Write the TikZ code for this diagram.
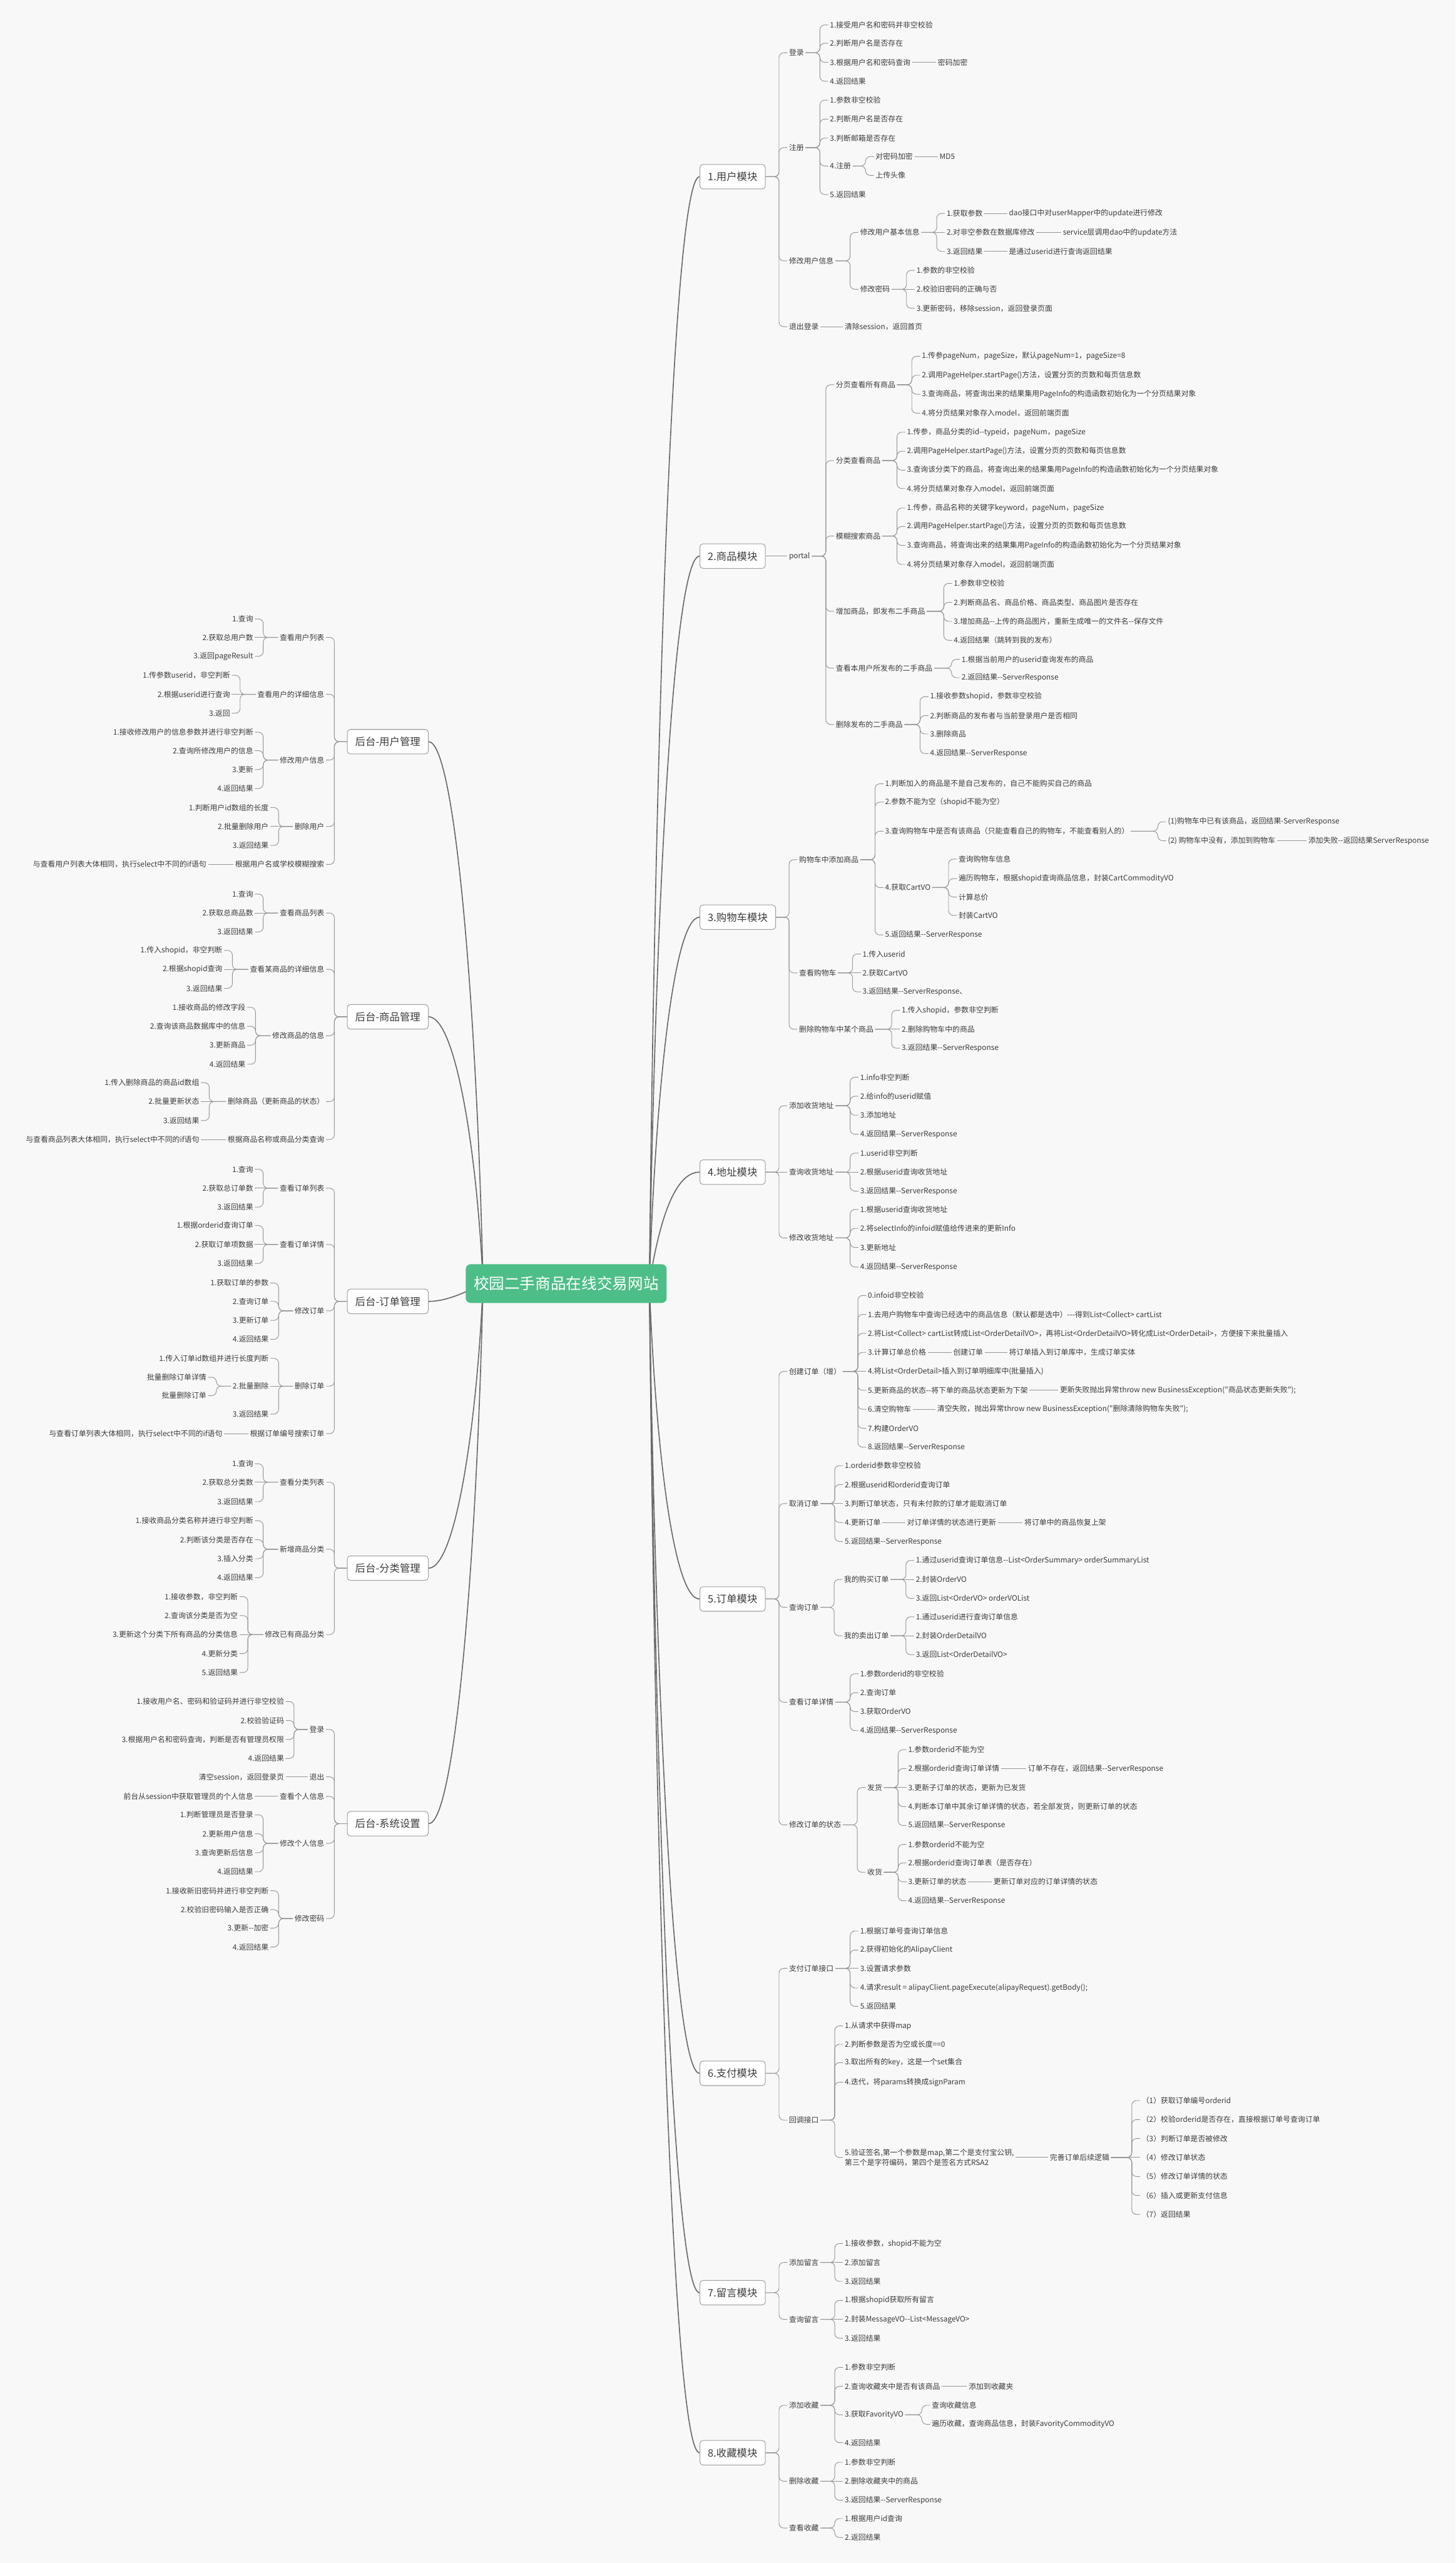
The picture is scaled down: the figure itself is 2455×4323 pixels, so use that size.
\documentclass[tikz,border=0pt]{standalone}
\usepackage{fontspec}
\newfontfamily\cjk{Noto Sans CJK SC}
\usetikzlibrary{calc}

\pgfdeclarelayer{back}
\pgfdeclarelayer{bg}
\pgfsetlayers{back,bg,main}

\definecolor{pagebg}{RGB}{248,248,248}
\definecolor{txt}{RGB}{60,60,60}
\definecolor{branch}{RGB}{150,150,150}
\definecolor{trunkc}{RGB}{105,105,105}
\definecolor{rootgreen}{RGB}{78,190,136}
\definecolor{boxline}{RGB}{160,160,160}

\tikzset{
  rt/.style={anchor=west, inner sep=2pt, text=txt, font=\cjk\fontsize{9.4}{11}\selectfont},
  lt/.style={rt, anchor=east},
  module/.style={draw=boxline, fill=white, rounded corners=4pt, line width=0.8pt, minimum height=31pt, inner xsep=10pt, text=txt, font=\cjk\fontsize{13}{15}\selectfont},
  rmod/.style={module, anchor=west},
  lmod/.style={module, anchor=east},
  root/.style={fill=rootgreen, rounded corners=6pt, minimum height=49pt, inner xsep=10pt, text=white, font=\cjk\fontsize{19.5}{22}\selectfont},
  link/.style={draw=branch, line width=0.75pt, rounded corners=6pt},
  trunk/.style={draw=trunkc, line width=1.3pt},
}

% brace to a child on the right / on the left, and straight links
\newcommand{\rlink}[2]{\draw[link] (#1.east) -- ($(#1.east -| #2.west)+(-14,0)$) |- (#2.west);}
\newcommand{\rline}[2]{\draw[link] (#1.east) -- (#2.west);}
\newcommand{\llink}[2]{\draw[link] (#1.west) -- ($(#1.west -| #2.east)+(14,0)$) |- (#2.east);}
\newcommand{\lline}[2]{\draw[link] (#1.west) -- (#2.east);}

\begin{document}
\begin{tikzpicture}[x=0.75pt,y=-0.75pt]
	\useasboundingbox (0,0) rectangle (2455,4323);
	\begin{pgfonlayer}{back}
		\fill[pagebg] (0,0) rectangle (2455,4323);
	\end{pgfonlayer}

	% Root
	\node[root] (root) at (955,2165) {校园二手商品在线交易网站};

	% Modules (right)
	\node[rmod] (user)  at (1180,298)  {1.用户模块};
	\node[rmod] (goods) at (1180,938)  {2.商品模块};
	\node[rmod] (cart)  at (1180,1547) {3.购物车模块};
	\node[rmod] (addr)  at (1180,1977) {4.地址模块};
	\node[rmod] (order) at (1180,2697) {5.订单模块};
	\node[rmod] (pay)   at (1180,3497) {6.支付模块};
	\node[rmod] (msg)   at (1180,3867) {7.留言模块};
	\node[rmod] (fav)   at (1180,4137) {8.收藏模块};
	% Modules (left)
	\node[lmod] (aduser)  at (723,1251) {后台-用户管理};
	\node[lmod] (adgoods) at (723,1715) {后台-商品管理};
	\node[lmod] (adorder) at (723,2195) {后台-订单管理};
	\node[lmod] (adtype)  at (723,2645) {后台-分类管理};
	\node[lmod] (adsys)   at (723,3076) {后台-系统设置};

	% Trunk curves
	\begin{pgfonlayer}{bg}
	\draw[trunk] ([xshift=-22pt]root.east) .. controls +(10,-934) and +(-45,0) .. (user.west);
	\draw[trunk] ([xshift=-22pt]root.east) .. controls +(10,-614) and +(-45,0) .. (goods.west);
	\draw[trunk] ([xshift=-22pt]root.east) .. controls +(10,-309) and +(-45,0) .. (cart.west);
	\draw[trunk] ([xshift=-22pt]root.east) .. controls +(15,-94) and +(-45,0) .. (addr.west);
	\draw[trunk] ([xshift=-22pt]root.east) .. controls +(10,266) and +(-45,0) .. (order.west);
	\draw[trunk] ([xshift=-22pt]root.east) .. controls +(10,666) and +(-45,0) .. (pay.west);
	\draw[trunk] ([xshift=-22pt]root.east) .. controls +(10,851) and +(-45,0) .. (msg.west);
	\draw[trunk] ([xshift=-22pt]root.east) .. controls +(10,986) and +(-45,0) .. (fav.west);
	\draw[trunk] ([xshift=22pt]root.west) .. controls +(-10,-457) and +(45,0) .. (aduser.east);
	\draw[trunk] ([xshift=22pt]root.west) .. controls +(-10,-225) and +(45,0) .. (adgoods.east);
	\draw[trunk] ([xshift=22pt]root.west) .. controls +(-30,15) and +(30,0) .. (adorder.east);
	\draw[trunk] ([xshift=22pt]root.west) .. controls +(-10,240) and +(45,0) .. (adtype.east);
	\draw[trunk] ([xshift=22pt]root.west) .. controls +(-10,455) and +(45,0) .. (adsys.east);
	\end{pgfonlayer}

	% 1.用户模块
	\node[rt] (u-login)   at (1328,89)  {登录};
	\node[rt] (u-login-1) at (1397,42)  {1.接受用户名和密码并非空校验};
	\node[rt] (u-login-2) at (1397,73)  {2.判断用户名是否存在};
	\node[rt] (u-login-3) at (1397,105) {3.根据用户名和密码查询};
	\node[rt] (u-login-3a) at (1579,105) {密码加密};
	\node[rt] (u-login-4) at (1397,137) {4.返回结果};
	\node[rt] (u-reg)     at (1328,249) {注册};
	\node[rt] (u-reg-1)   at (1397,169) {1.参数非空校验};
	\node[rt] (u-reg-2)   at (1397,201) {2.判断用户名是否存在};
	\node[rt] (u-reg-3)   at (1397,233) {3.判断邮箱是否存在};
	\node[rt] (u-reg-4)   at (1397,280) {4.注册};
	\node[rt] (u-reg-4a)  at (1474,264) {对密码加密};
	\node[rt] (u-reg-4a1) at (1582,264) {MD5};
	\node[rt] (u-reg-4b)  at (1474,296) {上传头像};
	\node[rt] (u-reg-5)   at (1397,328) {5.返回结果};
	\node[rt] (u-edit)    at (1328,440) {修改用户信息};
	\node[rt] (u-base)    at (1448,392) {修改用户基本信息};
	\node[rt] (u-base-1)  at (1594,360) {1.获取参数};
	\node[rt] (u-base-1n) at (1699,360) {dao接口中对userMapper中的update进行修改};
	\node[rt] (u-base-2)  at (1594,392) {2.对非空参数在数据库修改};
	\node[rt] (u-base-2n) at (1790,392) {service层调用dao中的update方法};
	\node[rt] (u-base-3)  at (1594,424) {3.返回结果};
	\node[rt] (u-base-3n) at (1699,424) {是通过userid进行查询返回结果};
	\node[rt] (u-pwd)     at (1448,488) {修改密码};
	\node[rt] (u-pwd-1)   at (1543,456) {1.参数的非空校验};
	\node[rt] (u-pwd-2)   at (1543,488) {2.校验旧密码的正确与否};
	\node[rt] (u-pwd-3)   at (1543,520) {3.更新密码，移除session，返回登录页面};
	\node[rt] (u-logout)  at (1328,551) {退出登录};
	\node[rt] (u-logout-n) at (1422,551) {清除session，返回首页};

	\foreach \c in {u-login,u-reg,u-edit,u-logout} {\rlink{user}{\c}}
	\foreach \i in {1,2,3,4} {\rlink{u-login}{u-login-\i}}
	\rline{u-login-3}{u-login-3a}
	\foreach \i in {1,2,3,4,5} {\rlink{u-reg}{u-reg-\i}}
	\rlink{u-reg-4}{u-reg-4a} \rlink{u-reg-4}{u-reg-4b}
	\rline{u-reg-4a}{u-reg-4a1}
	\rlink{u-edit}{u-base} \rlink{u-edit}{u-pwd}
	\rlink{u-base}{u-base-1} \rline{u-base}{u-base-2} \rlink{u-base}{u-base-3}
	\foreach \i in {1,2,3} {\rline{u-base-\i}{u-base-\i n}}
	\rlink{u-pwd}{u-pwd-1} \rline{u-pwd}{u-pwd-2} \rlink{u-pwd}{u-pwd-3}
	\rline{u-logout}{u-logout-n}

	% 2.商品模块
	\node[rt] (g-portal) at (1328,938) {portal};
	\node[rt] (g-page)   at (1407,649) {分页查看所有商品};
	\node[rt] (g-page-1) at (1552,601) {1.传参pageNum，pageSize，默认pageNum=1，pageSize=8};
	\node[rt] (g-page-2) at (1552,633) {2.调用PageHelper.startPage()方法，设置分页的页数和每页信息数};
	\node[rt] (g-page-3) at (1552,665) {3.查询商品，将查询出来的结果集用PageInfo的构造函数初始化为一个分页结果对象};
	\node[rt] (g-page-4) at (1552,697) {4.将分页结果对象存入model，返回前端页面};
	\node[rt] (g-type)   at (1407,777) {分类查看商品};
	\node[rt] (g-type-1) at (1527,729) {1.传参，商品分类的id--typeid，pageNum，pageSize};
	\node[rt] (g-type-2) at (1527,761) {2.调用PageHelper.startPage()方法，设置分页的页数和每页信息数};
	\node[rt] (g-type-3) at (1527,793) {3.查询该分类下的商品，将查询出来的结果集用PageInfo的构造函数初始化为一个分页结果对象};
	\node[rt] (g-type-4) at (1527,824) {4.将分页结果对象存入model，返回前端页面};
	\node[rt] (g-find)   at (1407,904) {模糊搜索商品};
	\node[rt] (g-find-1) at (1527,857) {1.传参，商品名称的关键字keyword，pageNum，pageSize};
	\node[rt] (g-find-2) at (1527,888) {2.调用PageHelper.startPage()方法，设置分页的页数和每页信息数};
	\node[rt] (g-find-3) at (1527,920) {3.查询商品，将查询出来的结果集用PageInfo的构造函数初始化为一个分页结果对象};
	\node[rt] (g-find-4) at (1527,952) {4.将分页结果对象存入model，返回前端页面};
	\node[rt] (g-add)    at (1407,1031) {增加商品，即发布二手商品};
	\node[rt] (g-add-1)  at (1606,984)  {1.参数非空校验};
	\node[rt] (g-add-2)  at (1606,1016) {2.判断商品名、商品价格、商品类型、商品图片是否存在};
	\node[rt] (g-add-3)  at (1606,1048) {3.增加商品--上传的商品图片，重新生成唯一的文件名--保存文件};
	\node[rt] (g-add-4)  at (1606,1080) {4.返回结果（跳转到我的发布）};
	\node[rt] (g-mine)   at (1407,1127) {查看本用户所发布的二手商品};
	\node[rt] (g-mine-1) at (1619,1112) {1.根据当前用户的userid查询发布的商品};
	\node[rt] (g-mine-2) at (1619,1143) {2.返回结果--ServerResponse};
	\node[rt] (g-del)    at (1407,1222) {删除发布的二手商品};
	\node[rt] (g-del-1)  at (1566,1175) {1.接收参数shopid，参数非空校验};
	\node[rt] (g-del-2)  at (1566,1207) {2.判断商品的发布者与当前登录用户是否相同};
	\node[rt] (g-del-3)  at (1566,1238) {3.删除商品};
	\node[rt] (g-del-4)  at (1566,1271) {4.返回结果--ServerResponse};

	\rline{goods}{g-portal}
	\foreach \c in {g-page,g-type,g-find,g-add,g-mine,g-del} {\rlink{g-portal}{\c}}
	\foreach \c in {g-page,g-type,g-find,g-add,g-del} {
		\foreach \i in {1,2,3,4} {\rlink{\c}{\c-\i}}
	}
	\rlink{g-mine}{g-mine-1} \rlink{g-mine}{g-mine-2}

	% 3.购物车模块
	\node[rt] (c-add)    at (1345,1450) {购物车中添加商品};
	\node[rt] (c-add-1)  at (1490,1322) {1.判断加入的商品是不是自己发布的，自己不能购买自己的商品};
	\node[rt] (c-add-2)  at (1490,1353) {2.参数不能为空（shopid不能为空）};
	\node[rt] (c-add-3)  at (1490,1402) {3.查询购物车中是否有该商品（只能查看自己的购物车，不能查看别人的）};
	\node[rt] (c-add-3a) at (1967,1386) {(1)购物车中已有该商品，返回结果-ServerResponse};
	\node[rt] (c-add-3b) at (1967,1418) {(2) 购物车中没有，添加到购物车};
	\node[rt] (c-add-3c) at (2204,1418) {添加失败--返回结果ServerResponse};
	\node[rt] (c-add-4)  at (1490,1497) {4.获取CartVO};
	\node[rt] (c-vo-1)   at (1614,1449) {查询购物车信息};
	\node[rt] (c-vo-2)   at (1614,1482) {遍历购物车，根据shopid查询商品信息，封装CartCommodityVO};
	\node[rt] (c-vo-3)   at (1614,1513) {计算总价};
	\node[rt] (c-vo-4)   at (1614,1544) {封装CartVO};
	\node[rt] (c-add-5)  at (1490,1577) {5.返回结果--ServerResponse};
	\node[rt] (c-view)   at (1345,1641) {查看购物车};
	\node[rt] (c-view-1) at (1452,1609) {1.传入userid};
	\node[rt] (c-view-2) at (1452,1641) {2.获取CartVO};
	\node[rt] (c-view-3) at (1452,1673) {3.返回结果--ServerResponse、};
	\node[rt] (c-del)    at (1345,1736) {删除购物车中某个商品};
	\node[rt] (c-del-1)  at (1518,1704) {1.传入shopid，参数非空判断};
	\node[rt] (c-del-2)  at (1518,1736) {2.删除购物车中的商品};
	\node[rt] (c-del-3)  at (1518,1768) {3.返回结果--ServerResponse};

	\foreach \c in {c-add,c-view,c-del} {\rlink{cart}{\c}}
	\foreach \i in {1,2,3,4,5} {\rlink{c-add}{c-add-\i}}
	\rlink{c-add-3}{c-add-3a} \rlink{c-add-3}{c-add-3b}
	\rline{c-add-3b}{c-add-3c}
	\foreach \i in {1,2,3,4} {\rlink{c-add-4}{c-vo-\i}}
	\rlink{c-view}{c-view-1} \rline{c-view}{c-view-2} \rlink{c-view}{c-view-3}
	\rlink{c-del}{c-del-1} \rline{c-del}{c-del-2} \rlink{c-del}{c-del-3}

	% 4.地址模块
	\node[rt] (a-add)     at (1328,1865) {添加收货地址};
	\node[rt] (a-add-1)   at (1448,1817) {1.info非空判断};
	\node[rt] (a-add-2)   at (1448,1849) {2.给info的userid赋值};
	\node[rt] (a-add-3)   at (1448,1881) {3.添加地址};
	\node[rt] (a-add-4)   at (1448,1913) {4.返回结果--ServerResponse};
	\node[rt] (a-query)   at (1328,1977) {查询收货地址};
	\node[rt] (a-query-1) at (1448,1945) {1.userid非空判断};
	\node[rt] (a-query-2) at (1448,1977) {2.根据userid查询收货地址};
	\node[rt] (a-query-3) at (1448,2009) {3.返回结果--ServerResponse};
	\node[rt] (a-edit)    at (1328,2088) {修改收货地址};
	\node[rt] (a-edit-1)  at (1448,2040) {1.根据userid查询收货地址};
	\node[rt] (a-edit-2)  at (1448,2072) {2.将selectInfo的infoid赋值给传进来的更新Info};
	\node[rt] (a-edit-3)  at (1448,2104) {3.更新地址};
	\node[rt] (a-edit-4)  at (1448,2137) {4.返回结果--ServerResponse};

	\rlink{addr}{a-add} \rline{addr}{a-query} \rlink{addr}{a-edit}
	\foreach \i in {1,2,3,4} {\rlink{a-add}{a-add-\i} \rlink{a-edit}{a-edit-\i}}
	\rlink{a-query}{a-query-1} \rline{a-query}{a-query-2} \rlink{a-query}{a-query-3}

	% 5.订单模块
	\node[rt] (o-new)    at (1328,2313) {创建订单（增）};
	\node[rt] (o-new-0)  at (1461,2185) {0.infoid非空校验};
	\node[rt] (o-new-1)  at (1461,2217) {1.去用户购物车中查询已经选中的商品信息（默认都是选中）---得到List<Collect> cartList};
	\node[rt] (o-new-2)  at (1461,2249) {2.将List<Collect> cartList转成List<OrderDetailVO>，再将List<OrderDetailVO>转化成List<OrderDetail>，方便接下来批量插入};
	\node[rt] (o-new-3)  at (1461,2281) {3.计算订单总价格};
	\node[rt] (o-new-3a) at (1605,2281) {创建订单};
	\node[rt] (o-new-3b) at (1699,2281) {将订单插入到订单库中，生成订单实体};
	\node[rt] (o-new-4)  at (1461,2313) {4.将List<OrderDetail>插入到订单明细库中(批量插入)};
	\node[rt] (o-new-5)  at (1461,2345) {5.更新商品的状态--将下单的商品状态更新为下架};
	\node[rt] (o-new-5a) at (1785,2345) {更新失败抛出异常throw new BusinessException("商品状态更新失败");};
	\node[rt] (o-new-6)  at (1461,2377) {6.清空购物车};
	\node[rt] (o-new-6a) at (1578,2377) {清空失败，抛出异常throw new BusinessException("删除清除购物车失败");};
	\node[rt] (o-new-7)  at (1461,2409) {7.构建OrderVO};
	\node[rt] (o-new-8)  at (1461,2441) {8.返回结果--ServerResponse};
	\node[rt] (o-cancel)   at (1328,2536) {取消订单};
	\node[rt] (o-cancel-1) at (1422,2472) {1.orderid参数非空校验};
	\node[rt] (o-cancel-2) at (1422,2504) {2.根据userid和orderid查询订单};
	\node[rt] (o-cancel-3) at (1422,2536) {3.判断订单状态，只有未付款的订单才能取消订单};
	\node[rt] (o-cancel-4) at (1422,2568) {4.更新订单};
	\node[rt] (o-cancel-4a) at (1527,2568) {对订单详情的状态进行更新};
	\node[rt] (o-cancel-4b) at (1725,2568) {将订单中的商品恢复上架};
	\node[rt] (o-cancel-5) at (1422,2600) {5.返回结果--ServerResponse};
	\node[rt] (o-query)  at (1328,2711) {查询订单};
	\node[rt] (o-buy)    at (1421,2664) {我的购买订单};
	\node[rt] (o-buy-1)  at (1542,2632) {1.通过userid查询订单信息--List<OrderSummary> orderSummaryList};
	\node[rt] (o-buy-2)  at (1542,2664) {2.封装OrderVO};
	\node[rt] (o-buy-3)  at (1542,2696) {3.返回List<OrderVO> orderVOList};
	\node[rt] (o-sell)   at (1421,2759) {我的卖出订单};
	\node[rt] (o-sell-1) at (1542,2727) {1.通过userid进行查询订单信息};
	\node[rt] (o-sell-2) at (1542,2759) {2.封装OrderDetailVO};
	\node[rt] (o-sell-3) at (1542,2791) {3.返回List<OrderDetailVO>};
	\node[rt] (o-info)   at (1328,2871) {查看订单详情};
	\node[rt] (o-info-1) at (1448,2823) {1.参数orderid的非空校验};
	\node[rt] (o-info-2) at (1448,2855) {2.查询订单};
	\node[rt] (o-info-3) at (1448,2887) {3.获取OrderVO};
	\node[rt] (o-info-4) at (1448,2919) {4.返回结果--ServerResponse};
	\node[rt] (o-state)  at (1328,3078) {修改订单的状态};
	\node[rt] (o-ship)   at (1460,3015) {发货};
	\node[rt] (o-ship-1) at (1529,2951) {1.参数orderid不能为空};
	\node[rt] (o-ship-2) at (1529,2983) {2.根据orderid查询订单详情};
	\node[rt] (o-ship-2a) at (1731,2983) {订单不存在，返回结果--ServerResponse};
	\node[rt] (o-ship-3) at (1529,3015) {3.更新子订单的状态，更新为已发货};
	\node[rt] (o-ship-4) at (1529,3047) {4.判断本订单中其余订单详情的状态，若全部发货，则更新订单的状态};
	\node[rt] (o-ship-5) at (1529,3079) {5.返回结果--ServerResponse};
	\node[rt] (o-recv)   at (1460,3158) {收货};
	\node[rt] (o-recv-1) at (1529,3111) {1.参数orderid不能为空};
	\node[rt] (o-recv-2) at (1529,3142) {2.根据orderid查询订单表（是否存在）};
	\node[rt] (o-recv-3) at (1529,3174) {3.更新订单的状态};
	\node[rt] (o-recv-3a) at (1673,3174) {更新订单对应的订单详情的状态};
	\node[rt] (o-recv-4) at (1529,3206) {4.返回结果--ServerResponse};

	\foreach \c in {o-new,o-cancel,o-query,o-info,o-state} {\rlink{order}{\c}}
	\foreach \i in {0,1,2,3,5,6,7,8} {\rlink{o-new}{o-new-\i}}
	\rline{o-new}{o-new-4}
	\rline{o-new-3}{o-new-3a} \rline{o-new-3a}{o-new-3b}
	\rline{o-new-5}{o-new-5a} \rline{o-new-6}{o-new-6a}
	\foreach \i in {1,2,4,5} {\rlink{o-cancel}{o-cancel-\i}}
	\rline{o-cancel}{o-cancel-3}
	\rline{o-cancel-4}{o-cancel-4a} \rline{o-cancel-4a}{o-cancel-4b}
	\rlink{o-query}{o-buy} \rlink{o-query}{o-sell}
	\foreach \c in {o-buy,o-sell} {\rlink{\c}{\c-1} \rline{\c}{\c-2} \rlink{\c}{\c-3}}
	\foreach \i in {1,2,3,4} {\rlink{o-info}{o-info-\i} \rlink{o-recv}{o-recv-\i}}
	\rlink{o-state}{o-ship} \rlink{o-state}{o-recv}
	\foreach \i in {1,2,4,5} {\rlink{o-ship}{o-ship-\i}}
	\rline{o-ship}{o-ship-3}
	\rline{o-ship-2}{o-ship-2a} \rline{o-recv-3}{o-recv-3a}

	% 6.支付模块
	\node[rt] (p-pay)    at (1328,3320) {支付订单接口};
	\node[rt] (p-pay-1)  at (1448,3257) {1.根据订单号查询订单信息};
	\node[rt] (p-pay-2)  at (1448,3289) {2.获得初始化的AlipayClient};
	\node[rt] (p-pay-3)  at (1448,3320) {3.设置请求参数};
	\node[rt] (p-pay-4)  at (1448,3353) {4.请求result = alipayClient.pageExecute(alipayRequest).getBody();};
	\node[rt] (p-pay-5)  at (1448,3384) {5.返回结果};
	\node[rt] (p-back)   at (1328,3576) {回调接口};
	\node[rt] (p-back-1) at (1422,3417) {1.从请求中获得map};
	\node[rt] (p-back-2) at (1422,3448) {2.判断参数是否为空或长度==0};
	\node[rt] (p-back-3) at (1422,3479) {3.取出所有的key，这是一个set集合};
	\node[rt] (p-back-4) at (1422,3512) {4.迭代，将params转换成signParam};
	\node[rt, align=left, font=\cjk\fontsize{9.4}{12.8}\selectfont] (p-back-5) at (1422,3639)
		{5.验证签名,第一个参数是map,第二个是支付宝公钥,\\第三个是字符编码，第四个是签名方式RSA2};
	\node[rt] (p-next)   at (1768,3639) {完善订单后续逻辑};
	\node[rt] (p-next-1) at (1923,3543) {（1）获取订单编号orderid};
	\node[rt] (p-next-2) at (1923,3575) {（2）校验orderid是否存在，直接根据订单号查询订单};
	\node[rt] (p-next-3) at (1923,3607) {（3）判断订单是否被修改};
	\node[rt] (p-next-4) at (1923,3639) {（4）修改订单状态};
	\node[rt] (p-next-5) at (1923,3671) {（5）修改订单详情的状态};
	\node[rt] (p-next-6) at (1923,3703) {（6）插入或更新支付信息};
	\node[rt] (p-next-7) at (1923,3735) {（7）返回结果};

	\rlink{pay}{p-pay} \rlink{pay}{p-back}
	\foreach \i in {1,2,4,5} {\rlink{p-pay}{p-pay-\i}}
	\rline{p-pay}{p-pay-3}
	\foreach \i in {1,2,3,4,5} {\rlink{p-back}{p-back-\i}}
	\rline{p-back-5}{p-next}
	\foreach \i in {1,2,3,5,6,7} {\rlink{p-next}{p-next-\i}}
	\rline{p-next}{p-next-4}

	% 7.留言模块
	\node[rt] (m-add)     at (1328,3816) {添加留言};
	\node[rt] (m-add-1)   at (1422,3784) {1.接收参数，shopid不能为空};
	\node[rt] (m-add-2)   at (1422,3816) {2.添加留言};
	\node[rt] (m-add-3)   at (1422,3848) {3.返回结果};
	\node[rt] (m-query)   at (1328,3912) {查询留言};
	\node[rt] (m-query-1) at (1422,3880) {1.根据shopid获取所有留言};
	\node[rt] (m-query-2) at (1422,3912) {2.封装MessageVO--List<MessageVO>};
	\node[rt] (m-query-3) at (1422,3944) {3.返回结果};

	\rlink{msg}{m-add} \rlink{msg}{m-query}
	\foreach \c in {m-add,m-query} {\rlink{\c}{\c-1} \rline{\c}{\c-2} \rlink{\c}{\c-3}}

	% 8.收藏模块
	\node[rt] (f-add)    at (1328,4057) {添加收藏};
	\node[rt] (f-add-1)  at (1422,3993) {1.参数非空判断};
	\node[rt] (f-add-2)  at (1422,4025) {2.查询收藏夹中是否有该商品};
	\node[rt] (f-add-2a) at (1631,4025) {添加到收藏夹};
	\node[rt] (f-add-3)  at (1422,4073) {3.获取FavorityVO};
	\node[rt] (f-vo-1)   at (1569,4057) {查询收藏信息};
	\node[rt] (f-vo-2)   at (1569,4089) {遍历收藏，查询商品信息，封装FavorityCommodityVO};
	\node[rt] (f-add-4)  at (1422,4120) {4.返回结果};
	\node[rt] (f-del)    at (1328,4185) {删除收藏};
	\node[rt] (f-del-1)  at (1422,4153) {1.参数非空判断};
	\node[rt] (f-del-2)  at (1422,4185) {2.删除收藏夹中的商品};
	\node[rt] (f-del-3)  at (1422,4217) {3.返回结果--ServerResponse};
	\node[rt] (f-view)   at (1328,4264) {查看收藏};
	\node[rt] (f-view-1) at (1422,4248) {1.根据用户id查询};
	\node[rt] (f-view-2) at (1422,4280) {2.返回结果};

	\foreach \c in {f-add,f-del,f-view} {\rlink{fav}{\c}}
	\foreach \i in {1,2,3,4} {\rlink{f-add}{f-add-\i}}
	\rline{f-add-2}{f-add-2a}
	\rlink{f-add-3}{f-vo-1} \rlink{f-add-3}{f-vo-2}
	\rlink{f-del}{f-del-1} \rline{f-del}{f-del-2} \rlink{f-del}{f-del-3}
	\rlink{f-view}{f-view-1} \rlink{f-view}{f-view-2}

	% 后台-用户管理
	\node[lt] (au-list)   at (550,1075) {查看用户列表};
	\node[lt] (au-list-1) at (430,1044) {1.查询};
	\node[lt] (au-list-2) at (430,1075) {2.获取总用户数};
	\node[lt] (au-list-3) at (430,1107) {3.返回pageResult};
	\node[lt] (au-info)   at (550,1171) {查看用户的详细信息};
	\node[lt] (au-info-1) at (391,1139) {1.传参数userid，非空判断};
	\node[lt] (au-info-2) at (391,1171) {2.根据userid进行查询};
	\node[lt] (au-info-3) at (391,1203) {3.返回};
	\node[lt] (au-edit)   at (550,1282) {修改用户信息};
	\node[lt] (au-edit-1) at (430,1235) {1.接收修改用户的信息参数并进行非空判断};
	\node[lt] (au-edit-2) at (430,1266) {2.查询所修改用户的信息};
	\node[lt] (au-edit-3) at (430,1298) {3.更新};
	\node[lt] (au-edit-4) at (430,1330) {4.返回结果};
	\node[lt] (au-del)    at (550,1394) {删除用户};
	\node[lt] (au-del-1)  at (456,1362) {1.判断用户id数组的长度};
	\node[lt] (au-del-2)  at (456,1394) {2.批量删除用户};
	\node[lt] (au-del-3)  at (456,1426) {3.返回结果};
	\node[lt] (au-find)   at (550,1458) {根据用户名或学校模糊搜索};
	\node[lt] (au-find-n) at (351,1458) {与查看用户列表大体相同，执行select中不同的if语句};

	\foreach \c in {au-list,au-info,au-edit,au-del,au-find} {\llink{aduser}{\c}}
	\foreach \c in {au-list,au-info,au-del} {\llink{\c}{\c-1} \lline{\c}{\c-2} \llink{\c}{\c-3}}
	\foreach \i in {1,2,3,4} {\llink{au-edit}{au-edit-\i}}
	\lline{au-find}{au-find-n}

	% 后台-商品管理
	\node[lt] (ag-list)   at (550,1540) {查看商品列表};
	\node[lt] (ag-list-1) at (430,1508) {1.查询};
	\node[lt] (ag-list-2) at (430,1540) {2.获取总商品数};
	\node[lt] (ag-list-3) at (430,1572) {3.返回结果};
	\node[lt] (ag-info)   at (550,1635) {查看某商品的详细信息};
	\node[lt] (ag-info-1) at (378,1603) {1.传入shopid，非空判断};
	\node[lt] (ag-info-2) at (378,1635) {2.根据shopid查询};
	\node[lt] (ag-info-3) at (378,1667) {3.返回结果};
	\node[lt] (ag-edit)   at (550,1747) {修改商品的信息};
	\node[lt] (ag-edit-1) at (417,1699) {1.接收商品的修改字段};
	\node[lt] (ag-edit-2) at (417,1731) {2.查询该商品数据库中的信息};
	\node[lt] (ag-edit-3) at (417,1763) {3.更新商品};
	\node[lt] (ag-edit-4) at (417,1795) {4.返回结果};
	\node[lt] (ag-del)    at (550,1858) {删除商品（更新商品的状态）};
	\node[lt] (ag-del-1)  at (339,1826) {1.传入删除商品的商品id数组};
	\node[lt] (ag-del-2)  at (339,1858) {2.批量更新状态};
	\node[lt] (ag-del-3)  at (339,1890) {3.返回结果};
	\node[lt] (ag-find)   at (550,1922) {根据商品名称或商品分类查询};
	\node[lt] (ag-find-n) at (339,1922) {与查看商品列表大体相同，执行select中不同的if语句};

	\foreach \c in {ag-list,ag-info,ag-edit,ag-del,ag-find} {\llink{adgoods}{\c}}
	\foreach \c in {ag-list,ag-info,ag-del} {\llink{\c}{\c-1} \lline{\c}{\c-2} \llink{\c}{\c-3}}
	\foreach \i in {1,2,3,4} {\llink{ag-edit}{ag-edit-\i}}
	\lline{ag-find}{ag-find-n}

	% 后台-订单管理
	\node[lt] (ao-list)   at (550,2004) {查看订单列表};
	\node[lt] (ao-list-1) at (430,1972) {1.查询};
	\node[lt] (ao-list-2) at (430,2004) {2.获取总订单数};
	\node[lt] (ao-list-3) at (430,2036) {3.返回结果};
	\node[lt] (ao-info)   at (550,2099) {查看订单详情};
	\node[lt] (ao-info-1) at (430,2067) {1.根据orderid查询订单};
	\node[lt] (ao-info-2) at (430,2099) {2.获取订单项数据};
	\node[lt] (ao-info-3) at (430,2131) {3.返回结果};
	\node[lt] (ao-edit)   at (550,2211) {修改订单};
	\node[lt] (ao-edit-1) at (456,2164) {1.获取订单的参数};
	\node[lt] (ao-edit-2) at (456,2195) {2.查询订单};
	\node[lt] (ao-edit-3) at (456,2227) {3.更新订单};
	\node[lt] (ao-edit-4) at (456,2259) {4.返回结果};
	\node[lt] (ao-del)    at (550,2338) {删除订单};
	\node[lt] (ao-del-1)  at (456,2291) {1.传入订单id数组并进行长度判断};
	\node[lt] (ao-del-2)  at (456,2338) {2.批量删除};
	\node[lt] (ao-del-2a) at (351,2323) {批量删除订单详情};
	\node[lt] (ao-del-2b) at (351,2354) {批量删除订单};
	\node[lt] (ao-del-3)  at (456,2385) {3.返回结果};
	\node[lt] (ao-find)   at (550,2418) {根据订单编号搜索订单};
	\node[lt] (ao-find-n) at (378,2418) {与查看订单列表大体相同，执行select中不同的if语句};

	\foreach \c in {ao-list,ao-info,ao-edit,ao-del,ao-find} {\llink{adorder}{\c}}
	\foreach \c in {ao-list,ao-info,ao-del} {\llink{\c}{\c-1} \lline{\c}{\c-2} \llink{\c}{\c-3}}
	\foreach \i in {1,2,3,4} {\llink{ao-edit}{ao-edit-\i}}
	\llink{ao-del-2}{ao-del-2a} \llink{ao-del-2}{ao-del-2b}
	\lline{ao-find}{ao-find-n}

	% 后台-分类管理
	\node[lt] (at-list)   at (550,2500) {查看分类列表};
	\node[lt] (at-list-1) at (430,2469) {1.查询};
	\node[lt] (at-list-2) at (430,2500) {2.获取总分类数};
	\node[lt] (at-list-3) at (430,2533) {3.返回结果};
	\node[lt] (at-add)    at (550,2613) {新增商品分类};
	\node[lt] (at-add-1)  at (430,2565) {1.接收商品分类名称并进行非空判断};
	\node[lt] (at-add-2)  at (430,2597) {2.判断该分类是否存在};
	\node[lt] (at-add-3)  at (430,2629) {3.插入分类};
	\node[lt] (at-add-4)  at (430,2661) {4.返回结果};
	\node[lt] (at-edit)   at (550,2757) {修改已有商品分类};
	\node[lt] (at-edit-1) at (404,2693) {1.接收参数，非空判断};
	\node[lt] (at-edit-2) at (404,2725) {2.查询该分类是否为空};
	\node[lt] (at-edit-3) at (404,2757) {3.更新这个分类下所有商品的分类信息};
	\node[lt] (at-edit-4) at (404,2789) {4.更新分类};
	\node[lt] (at-edit-5) at (404,2821) {5.返回结果};

	\foreach \c in {at-list,at-add,at-edit} {\llink{adtype}{\c}}
	\llink{at-list}{at-list-1} \lline{at-list}{at-list-2} \llink{at-list}{at-list-3}
	\foreach \i in {1,2,3,4} {\llink{at-add}{at-add-\i}}
	\foreach \i in {1,2,4,5} {\llink{at-edit}{at-edit-\i}}
	\lline{at-edit}{at-edit-3}

	% 后台-系统设置
	\node[lt] (as-login)   at (550,2917) {登录};
	\node[lt] (as-login-1) at (482,2870) {1.接收用户名、密码和验证码并进行非空校验};
	\node[lt] (as-login-2) at (482,2902) {2.校验验证码};
	\node[lt] (as-login-3) at (482,2934) {3.根据用户名和密码查询，判断是否有管理员权限};
	\node[lt] (as-login-4) at (482,2966) {4.返回结果};
	\node[lt] (as-out)     at (550,2997) {退出};
	\node[lt] (as-out-n)   at (482,2997) {清空session，返回登录页};
	\node[lt] (as-me)      at (550,3030) {查看个人信息};
	\node[lt] (as-me-n)    at (430,3030) {前台从session中获取管理员的个人信息};
	\node[lt] (as-edit)    at (550,3109) {修改个人信息};
	\node[lt] (as-edit-1)  at (430,3061) {1.判断管理员是否登录};
	\node[lt] (as-edit-2)  at (430,3093) {2.更新用户信息};
	\node[lt] (as-edit-3)  at (430,3125) {3.查询更新后信息};
	\node[lt] (as-edit-4)  at (430,3157) {4.返回结果};
	\node[lt] (as-pwd)     at (550,3236) {修改密码};
	\node[lt] (as-pwd-1)   at (456,3189) {1.接收新旧密码并进行非空判断};
	\node[lt] (as-pwd-2)   at (456,3221) {2.校验旧密码输入是否正确};
	\node[lt] (as-pwd-3)   at (456,3252) {3.更新--加密};
	\node[lt] (as-pwd-4)   at (456,3284) {4.返回结果};

	\foreach \c in {as-login,as-out,as-me,as-edit,as-pwd} {\llink{adsys}{\c}}
	\foreach \c in {as-login,as-edit,as-pwd} {
		\foreach \i in {1,2,3,4} {\llink{\c}{\c-\i}}
	}
	\lline{as-out}{as-out-n} \lline{as-me}{as-me-n}
\end{tikzpicture}
\end{document}
